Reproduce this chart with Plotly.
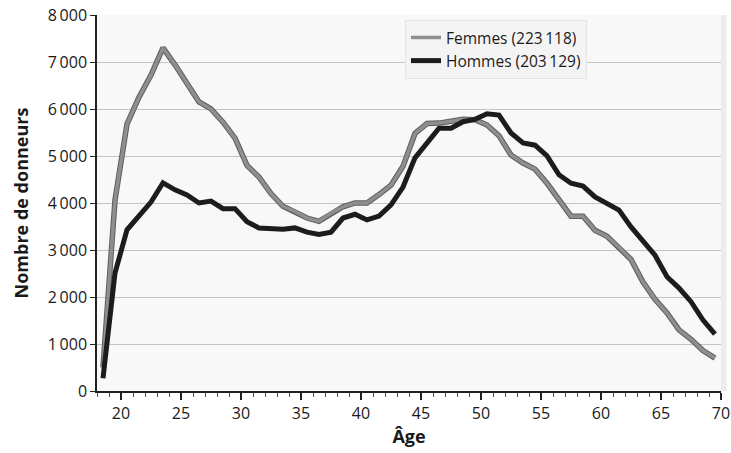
import plotly.graph_objects as go

ages = [18.5 + i for i in range(52)]
femmes = [500, 4060, 5680, 6250, 6720, 7300, 6940, 6550, 6150, 6000,
          5720, 5380, 4800, 4550, 4200, 3930, 3820, 3680, 3610, 3780,
          3920, 4000, 4000, 4180, 4380, 4780, 5480, 5690, 5700, 5740,
          5780, 5770, 5660, 5430, 5020, 4850, 4720, 4420, 4080, 3720,
          3720, 3420, 3290, 3060, 2800, 2320, 1950, 1660, 1300, 1100,
          860, 700]
hommes = [270, 2510, 3430, 3740, 4020, 4430, 4280, 4170, 4000, 4040,
          3880, 3880, 3600, 3470, 3460, 3440, 3470, 3380, 3330, 3380,
          3680, 3760, 3640, 3720, 3960, 4340, 4960, 5270, 5590, 5590,
          5730, 5780, 5900, 5870, 5490, 5280, 5230, 5000, 4600, 4420,
          4360, 4130, 3980, 3850, 3490, 3170, 2890, 2430, 2190, 1900,
          1510, 1210]
y_tickvals = [0, 1000, 2000, 3000, 4000, 5000, 6000, 7000, 8000]
y_ticktext = ["0", "1\u2009000", "2\u2009000", "3\u2009000", "4\u2009000",
              "5\u2009000", "6\u2009000", "7\u2009000", "8\u2009000"]
x_tickvals = [20, 25, 30, 35, 40, 45, 50, 55, 60, 65, 70]

font = "Open Sans"
fig = go.Figure()
fig.add_trace(go.Scatter(x=ages, y=femmes, mode="lines", showlegend=False,
                         hoverinfo="skip",
                         line=dict(color="#5e5e5e", width=5.5)))
fig.add_trace(go.Scatter(x=ages, y=femmes, mode="lines",
                         name="Femmes (223\u2009118)",
                         line=dict(color="#8f8f8f", width=3.5)))
fig.add_trace(go.Scatter(x=ages, y=hommes, mode="lines",
                         name="Hommes (203\u2009129)",
                         line=dict(color="#1c1c1c", width=5)))

fig.add_shape(type="rect", xref="paper", yref="paper",
              x0=1.0, x1=1.009, y0=0, y1=1,
              fillcolor="#ececec", line=dict(width=0), layer="below")

fig.update_layout(
    width=731, height=453,
    margin=dict(l=97, r=10, t=15, b=62),
    paper_bgcolor="white",
    plot_bgcolor="#f8f8f8",
    font=dict(family=font, size=16, color="#1a1a1a"),
    legend=dict(x=0.4936, y=0.987, xanchor="left", yanchor="top",
                bgcolor="#f4f4f4", bordercolor="#e4e4e4", borderwidth=1,
                font=dict(family=font, size=15.5, color="#1a1a1a"),
                traceorder="normal", tracegroupgap=0),
    xaxis=dict(range=[18, 70], tickvals=x_tickvals, ticks="outside",
               ticklen=7, tickwidth=1.5, tickcolor="#222",
               showline=True, linecolor="#222", linewidth=1.5,
               showgrid=False, zeroline=False, automargin=False,
               minor=dict(dtick=1, ticks="outside", ticklen=4,
                          tickcolor="#555", tickwidth=1),
               tickfont=dict(size=16),
               title=dict(text="<b>Âge</b>", font=dict(size=18), standoff=4)),
    yaxis=dict(range=[0, 8000], tickvals=y_tickvals, ticktext=y_ticktext,
               ticks="outside", ticklen=5, tickcolor="#222",
               showline=True, linecolor="#222", linewidth=1.5,
               showgrid=True, gridcolor="#c4c4c4", gridwidth=1,
               zeroline=False, automargin=False, tickfont=dict(size=16),
               title=dict(text="<b>Nombre de donneurs</b>", font=dict(size=18),
                          standoff=14)),
)
fig.write_html("out.html", config={"displayModeBar": False},
               post_script="document.body.style.margin='0';")
